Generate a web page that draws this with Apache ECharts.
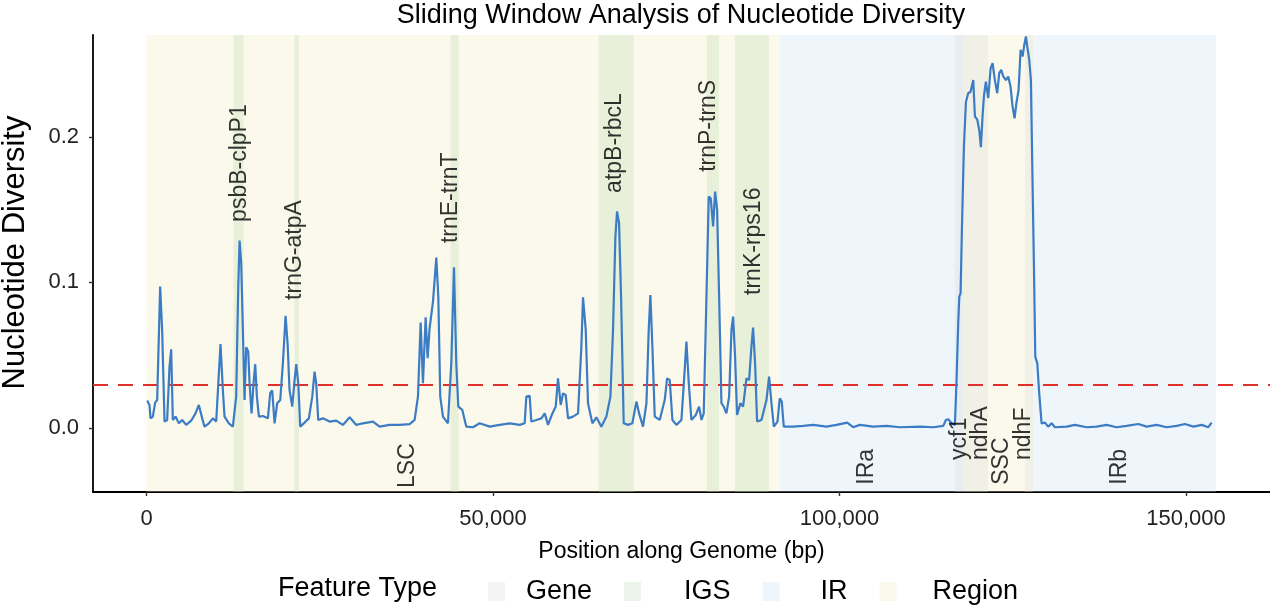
<!DOCTYPE html>
<html>
<head>
<meta charset="utf-8">
<title>Sliding Window Analysis of Nucleotide Diversity</title>
<script src="https://cdn.jsdelivr.net/npm/echarts@6/dist/echarts.min.js"></script>
<style>
  html, body { margin: 0; padding: 0; background: #fff; }
  #chart { width: 1270px; height: 606px; }
</style>
</head>
<body>
<div id="chart"></div>
<script>
"use strict";

// sliding-window pi, [position (bp), nucleotide diversity]
const windows = [
  [100,0.0188],[430,0.0158],[580,0.0066],[910,0.0078],[1250,0.0174],[1540,0.0192],[1970,0.0971],[2260,0.0670],
  [2600,0.0044],[2980,0.0055],[3320,0.0420],[3560,0.0540],[3800,0.0055],[4190,0.0078],[4670,0.0032],[5150,0.0055],
  [5730,0.0021],[6450,0.0050],[7070,0.0100],[7550,0.0158],[8040,0.0066],[8370,0.0009],[9000,0.0032],[9580,0.0066],
  [10060,0.0044],[10390,0.0330],[10680,0.0577],[11020,0.0260],[11260,0.0078],[11890,0.0032],[12460,0.0009],
  [12940,0.0215],[13230,0.0948],[13430,0.1288],[13670,0.1130],[13910,0.0670],[14150,0.0192],[14390,0.0554],
  [14680,0.0525],[14870,0.0307],[15160,0.0100],[15450,0.0310],[15690,0.0438],[15930,0.0215],[16220,0.0078],
  [16790,0.0082],[17520,0.0066],[17850,0.0240],[18140,0.0257],[18480,0.0032],[18860,0.0170],[19300,0.0192],
  [19680,0.0444],[20070,0.0770],[20360,0.0580],[20640,0.0260],[21030,0.0147],[21370,0.0330],[21610,0.0438],
  [21900,0.0307],[22180,0.0009],[22810,0.0037],[23430,0.0066],[23920,0.0215],[24250,0.0387],[24490,0.0307],
  [24780,0.0055],[25460,0.0066],[26420,0.0044],[27380,0.0050],[28340,0.0021],[29310,0.0073],[30270,0.0021],
  [31230,0.0032],[32670,0.0044],[33640,0.0009],[35080,0.0021],[36520,0.0021],[37970,0.0027],[38690,0.0055],
  [39170,0.0215],[39560,0.0724],[39890,0.0307],[40280,0.0760],[40570,0.0479],[40850,0.0685],[41340,0.0868],
  [41820,0.1170],[42110,0.0900],[42390,0.0215],[42780,0.0078],[43500,0.0032],[43980,0.0444],[44370,0.1104],
  [44700,0.0444],[44990,0.0147],[45570,0.0124],[46150,0.0009],[47110,0.0005],[48070,0.0032],[49520,0.0009],
  [50960,0.0021],[52410,0.0032],[53850,0.0021],[54570,0.0032],[54810,0.0215],[55290,0.0220],[55530,0.0044],
  [56260,0.0055],[56980,0.0066],[57460,0.0100],[57940,0.0021],[58570,0.0100],[59050,0.0147],[59380,0.0341],
  [59770,0.0158],[60110,0.0238],[60490,0.0227],[60830,0.0066],[61550,0.0078],[62270,0.0100],[62750,0.0559],
  [62990,0.0898],[63380,0.0674],[63710,0.0170],[64340,0.0032],[64920,0.0073],[65640,0.0009],[66360,0.0078],
  [66940,0.0215],[67320,0.0674],[67660,0.1315],[67900,0.1487],[68190,0.1407],[68480,0.0903],[68860,0.0032],
  [69490,0.0021],[70110,0.0032],[70690,0.0181],[71080,0.0100],[71650,0.0009],[72140,0.0170],[72470,0.0674],
  [72710,0.0914],[73000,0.0559],[73340,0.0078],[74060,0.0055],[74780,0.0192],[75120,0.0341],[75500,0.0330],
  [75890,0.0055],[76470,0.0021],[77190,0.0055],[77570,0.0330],[77910,0.0593],[78250,0.0307],[78630,0.0055],
  [79260,0.0089],[79740,0.0147],[80080,0.0055],[80410,0.0100],[80800,0.0903],[81130,0.1590],[81420,0.1578],
  [81760,0.1384],[82050,0.1624],[82340,0.1498],[82630,0.0903],[82960,0.0170],[83300,0.0147],[83680,0.0100],
  [84070,0.0215],[84410,0.0674],[84650,0.0765],[84930,0.0490],[85220,0.0089],[85700,0.0170],[86090,0.0147],
  [86570,0.0341],[86960,0.0330],[87290,0.0559],[87530,0.0690],[87820,0.0444],[88110,0.0044],[88740,0.0055],
  [89460,0.0192],[89840,0.0353],[90180,0.0170],[90520,0.0009],[91050,0.0044],[91380,0.0204],[91670,0.0181],
  [91960,0.0009],[93310,0.0009],[94760,0.0014],[96200,0.0021],[98120,0.0009],[99570,0.0021],[101110,0.0037],
  [101970,0.0005],[102940,0.0021],[104860,0.0009],[106790,0.0014],[108710,0.0005],[111600,0.0009],[113520,0.0005],
  [114970,0.0014],[115350,0.0055],[115690,0.0060],[116170,0.0032],[116650,0.0021],[116890,0.0330],[117130,0.0720],
  [117280,0.0900],[117470,0.0926],[117660,0.1360],[117950,0.1930],[118240,0.2240],[118570,0.2300],[118910,0.2310],
  [119300,0.2390],[119540,0.2140],[119870,0.2120],[120160,0.2050],[120400,0.1930],[120640,0.2140],[120840,0.2280],
  [121120,0.2380],[121460,0.2266],[121800,0.2470],[122090,0.2506],[122420,0.2390],[122760,0.2300],[123050,0.2438],
  [123340,0.2460],[123630,0.2415],[124010,0.2390],[124350,0.2415],[124680,0.2346],[124970,0.2210],[125260,0.2128],
  [125550,0.2240],[125840,0.2320],[126130,0.2598],[126420,0.2552],[126660,0.2632],[126900,0.2690],[127090,0.2620],
  [127380,0.2530],[127620,0.2390],[127810,0.1820],[128050,0.1130],[128250,0.0490],[128540,0.0444],[128820,0.0238],
  [129160,0.0032],[129640,0.0037],[130120,0.0009],[130600,0.0032],[131090,0.0005],[132770,0.0009],[133970,0.0021],
  [135660,0.0005],[137100,0.0009],[138540,0.0021],[139990,0.0005],[141430,0.0014],[143120,0.0027],[144320,0.0009],
  [145760,0.0021],[147210,0.0005],[148650,0.0014],[149850,0.0027],[151060,0.0009],[152260,0.0021],[153220,0.0005],
  [153700,0.0037]
];

const threshold = 0.0284;

// background features, [start, end]
const regionBands = [[0, 91390], [117800, 127910]];          // LSC, SSC
const irBands = [[91390, 117800], [127910, 154300]];         // IRa, IRb
const igsBands = [[12560, 14000], [21370, 21990], [43890, 45040], [65260, 70310], [80850, 82580], [84890, 89800]];
const geneBands = [[116650, 120260], [120260, 121410], [126760, 127910]];

// text labels, [position, value at text start, text]
const featureLabels = [
  [13430, 0.1416, 'psbB-clpP1'], [21370, 0.0880, 'trnG-atpA'], [43960, 0.1270, 'trnE-trnT'],
  [67570, 0.1615, 'atpB-rbcL'], [81140, 0.1760, 'trnP-trnS'], [87560, 0.0914, 'trnK-rps16'],
  [37750, -0.0412, 'LSC'], [103950, -0.0390, 'IRa'], [117370, -0.0220, 'ycf1'], [120330, -0.0220, 'ndhA'],
  [123360, -0.0390, 'SSC'], [126540, -0.0220, 'ndhF'], [140470, -0.0390, 'IRb']
];

const xTicks = [0, 50000, 100000, 150000];
const yTicks = [0, 0.1, 0.2];
const legendNames = ['Gene', 'IGS', 'IR', 'Region'];
const legendTextPad = [16, 38, 36, 31];

const FONT = 'Liberation Sans, Arial, Helvetica, sans-serif';
const chart = echarts.init(document.getElementById('chart'), null, { renderer: 'canvas' });

function bandSeries(name, bands, color, z) {
  return {
    name: name,
    type: 'custom',
    silent: true,
    z: z,
    itemStyle: { color: color },
    encode: { x: [0, 1], y: -1 },
    renderItem: function (params, api) {
      const x0 = api.coord([api.value(0), 0])[0];
      const x1 = api.coord([api.value(1), 0])[0];
      const cs = params.coordSys;
      return {
        type: 'rect',
        shape: { x: x0, y: cs.y, width: x1 - x0, height: cs.height },
        style: { fill: color }
      };
    },
    data: bands
  };
}

const option = {
  animation: false,
  backgroundColor: '#fff',
  textStyle: { fontFamily: FONT },
  title: {
    text: 'Sliding Window Analysis of Nucleotide Diversity',
    left: 681,
    textAlign: 'center',
    top: 2,
    padding: 0,
    textStyle: { fontFamily: FONT, fontSize: 27, fontWeight: 'normal', color: '#000' }
  },
  graphic: [{
    type: 'text',
    left: 278,
    top: 575,
    style: { text: 'Feature Type', font: '27px ' + FONT, fill: '#000' }
  }],
  legend: {
    data: legendNames.map(function (n, i) {
      return { name: n, textStyle: { padding: [0, 0, 0, legendTextPad[i]] } };
    }),
    left: 483,
    top: 573,
    icon: 'rect',
    itemWidth: 17,
    itemHeight: 19,
    itemGap: 32,
    selectedMode: false,
    textStyle: { fontFamily: FONT, fontSize: 27, color: '#000' }
  },
  grid: { left: 93, right: 0, top: 35, bottom: 114, outerBoundsMode: 'none', containLabel: false },
  xAxis: {
    type: 'value',
    min: -7720,
    max: 162120,
    name: 'Position along Genome (bp)',
    nameLocation: 'middle',
    nameGap: 48,
    nameTextStyle: { fontFamily: FONT, fontSize: 23, color: '#000' },
    axisLine: { onZero: false, lineStyle: { color: '#000', width: 1.8 } },
    axisTick: { customValues: xTicks, length: 4, lineStyle: { color: '#333', width: 1.4 } },
    axisLabel: {
      customValues: xTicks, margin: 16, fontFamily: FONT, fontSize: 22, color: '#222',
      formatter: function (v) { return v.toLocaleString('en-US'); }
    },
    splitLine: { show: false }
  },
  yAxis: {
    type: 'value',
    min: -0.044,
    max: 0.270,
    name: 'Nucleotide Diversity',
    nameLocation: 'middle',
    nameGap: 62,
    nameTextStyle: { fontFamily: FONT, fontSize: 31, color: '#000', padding: [0, 0, 0, 22] },
    axisLine: { show: true, onZero: false, lineStyle: { color: '#000', width: 1.8 } },
    axisTick: { show: true, customValues: yTicks, length: 4, lineStyle: { color: '#333', width: 1.4 } },
    axisLabel: {
      customValues: yTicks, margin: 14, fontFamily: FONT, fontSize: 22, color: '#222',
      formatter: function (v) { return v.toFixed(1); }
    },
    splitLine: { show: false }
  },
  series: [
    bandSeries('Region', regionBands, 'rgba(242,235,188,0.3)', 1),
    bandSeries('IR', irBands, 'rgba(198,222,242,0.3)', 1),
    bandSeries('IGS', igsBands, 'rgba(188,219,178,0.3)', 2),
    bandSeries('Gene', geneBands, 'rgba(218,218,218,0.3)', 3),
    {
      name: 'Nucleotide diversity',
      type: 'line',
      z: 5,
      data: windows,
      showSymbol: false,
      symbol: 'none',
      silent: true,
      lineStyle: { color: '#3b7cc4', width: 2.2 },
      markLine: {
        silent: true,
        symbol: 'none',
        label: { show: false },
        lineStyle: { color: '#e0302c', width: 2, type: [15, 10] },
        data: [{ yAxis: threshold }]
      }
    },
    {
      name: 'labels',
      type: 'scatter',
      z: 6,
      silent: true,
      symbolSize: 0.1,
      itemStyle: { color: 'rgba(0,0,0,0)' },
      data: featureLabels,
      label: {
        show: true,
        position: 'inside',
        rotate: 90,
        align: 'left',
        verticalAlign: 'middle',
        fontFamily: FONT,
        fontSize: 23,
        color: '#000',
        formatter: function (p) { return p.data[2]; }
      }
    }
  ]
};

chart.setOption(option);
</script>
</body>
</html>
